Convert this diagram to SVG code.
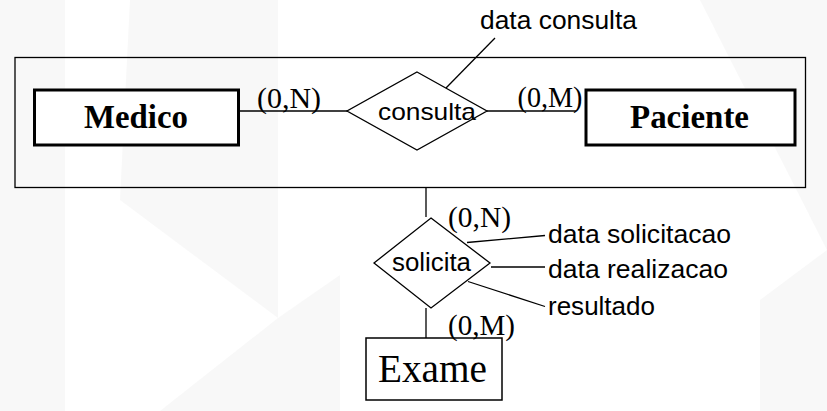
<svg xmlns="http://www.w3.org/2000/svg" width="827" height="411" viewBox="0 0 827 411">
<style>
.bg{fill:#eeeeee;opacity:0.4}
.ln{stroke:#000;stroke-width:1.3;fill:none}
.ent{fill:#fff;stroke:#000;stroke-width:3}
.ent2{fill:#fff;stroke:#000;stroke-width:1.5}
.rel{fill:#fff;stroke:#000;stroke-width:1.3}
.sans{font-family:"Liberation Sans",Arial,sans-serif;fill:#000}
.serif{font-family:"Liberation Serif","Times New Roman",serif;fill:#000}
.bold{font-weight:bold}
</style>
<rect x="0" y="0" width="827" height="411" fill="#ffffff"/>
<g id="background">
<rect class="bg" x="0" y="0" width="65" height="411"/>
<polygon class="bg" points="120,200 278,200 278,318"/>
<polygon class="bg" points="278,318 340,275 340,411 160,411"/>
<polygon class="bg" points="130,0 278,0 278,200 120,200"/>
<polygon class="bg" points="700,0 827,0 827,411 760,411 760,300 827,250"/>
</g>
<g id="aggregation">
<rect x="15" y="57.5" width="790.5" height="130" fill="none" stroke="#000" stroke-width="1.3"/>
</g>
<g id="connectors">
<line class="ln" x1="238" y1="111" x2="348" y2="111"/>
<line class="ln" x1="487" y1="111" x2="576" y2="111"/>
<line class="ln" x1="495" y1="38" x2="446" y2="88"/>
<line class="ln" x1="426" y1="188" x2="426" y2="217"/>
<line class="ln" x1="426" y1="308" x2="426" y2="338"/>
<line class="ln" x1="467" y1="242.5" x2="545" y2="235.5"/>
<line class="ln" x1="491" y1="267" x2="545" y2="267"/>
<line class="ln" x1="468" y1="281.5" x2="545" y2="306.5"/>
</g>
<g id="medico">
<rect class="ent" x="34.5" y="90" width="204" height="55"/>
<text class="serif bold" x="84" y="128" font-size="34" textLength="104" lengthAdjust="spacingAndGlyphs">Medico</text>
</g>
<g id="paciente">
<rect class="ent" x="586" y="90" width="209" height="55"/>
<text class="serif bold" x="630" y="127.5" font-size="34" textLength="119" lengthAdjust="spacingAndGlyphs">Paciente</text>
</g>
<g id="consulta">
<polygon class="rel" points="417,72 487,111 417,150 347,111"/>
<text class="sans" x="378" y="119.5" font-size="24" textLength="98" lengthAdjust="spacingAndGlyphs">consulta</text>
</g>
<g id="data-consulta">
<text class="sans" x="480" y="29" font-size="26" textLength="157" lengthAdjust="spacingAndGlyphs">data consulta</text>
</g>
<g id="solicita">
<polygon class="rel" points="431,218 490,263 431,308 374,263"/>
<text class="sans" x="392" y="270.5" font-size="25" textLength="79" lengthAdjust="spacingAndGlyphs">solicita</text>
</g>
<g id="exame">
<rect class="ent2" x="366" y="338" width="136" height="62"/>
<text class="serif" x="378" y="381.5" font-size="40" textLength="109" lengthAdjust="spacingAndGlyphs">Exame</text>
</g>
<g id="attributes">
<text class="sans" x="548" y="242.5" font-size="26" textLength="183" lengthAdjust="spacingAndGlyphs">data solicitacao</text>
<text class="sans" x="548" y="278" font-size="26" textLength="180" lengthAdjust="spacingAndGlyphs">data realizacao</text>
<text class="sans" x="548" y="315" font-size="26" textLength="107" lengthAdjust="spacingAndGlyphs">resultado</text>
</g>
<g id="cardinalities">
<text class="serif" x="257" y="108" font-size="30" textLength="64" lengthAdjust="spacingAndGlyphs">(0,N)</text>
<text class="serif" x="517.5" y="107" font-size="30" textLength="65" lengthAdjust="spacingAndGlyphs">(0,M)</text>
<text class="serif" x="448" y="226.5" font-size="30" textLength="63" lengthAdjust="spacingAndGlyphs">(0,N)</text>
<text class="serif" x="448" y="335" font-size="30" textLength="67" lengthAdjust="spacingAndGlyphs">(0,M)</text>
</g>
</svg>
